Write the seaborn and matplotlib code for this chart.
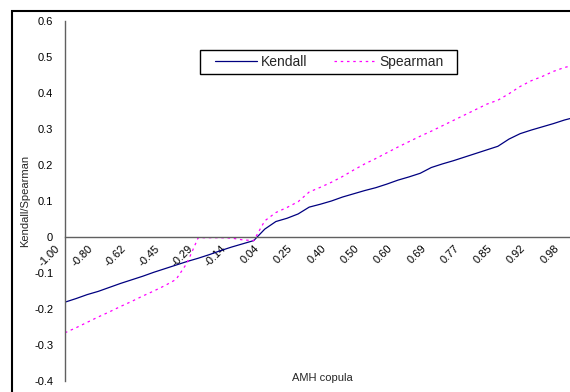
import numpy as np
import pandas as pd
import matplotlib
matplotlib.use('Agg')
import matplotlib.pyplot as plt
from matplotlib.patches import Rectangle
from matplotlib.transforms import ScaledTranslation
import seaborn as sns

# AMH copula: Kendall's tau and Spearman's rho per parameter step
kendall = [-0.181, -0.171, -0.160, -0.151, -0.140, -0.129, -0.119, -0.109, -0.098, -0.088,
           -0.078, -0.068, -0.059, -0.049, -0.038, -0.028, -0.019, -0.010, 0.022, 0.043,
           0.052, 0.064, 0.083, 0.091, 0.100, 0.111, 0.120, 0.129, 0.137, 0.147,
           0.158, 0.167, 0.177, 0.193, 0.203, 0.212, 0.222, 0.232, 0.242, 0.252,
           0.272, 0.287, 0.297, 0.306, 0.315, 0.325, 0.333]
spearman = [-0.266, -0.252, -0.237, -0.222, -0.208, -0.193, -0.179, -0.164, -0.150, -0.135,
            -0.118, -0.072, -0.002, -0.002, -0.002, -0.003, -0.008, -0.010, 0.045, 0.068,
            0.082, 0.098, 0.125, 0.138, 0.152, 0.168, 0.186, 0.203, 0.218, 0.234,
            0.250, 0.265, 0.280, 0.294, 0.309, 0.324, 0.339, 0.354, 0.369, 0.380,
            0.398, 0.418, 0.434, 0.446, 0.460, 0.471, 0.478]
# only every third category carries a label on the axis
x_labels = ['-1.00', '-0.80', '-0.62', '-0.45', '-0.29', '-0.14', '0.04', '0.25',
            '0.40', '0.50', '0.60', '0.69', '0.77', '0.85', '0.92', '0.98']
label_step = 3
y_ticks = [-0.4, -0.3, -0.2, -0.1, 0.0, 0.1, 0.2, 0.3, 0.4, 0.5, 0.6]

df = pd.DataFrame({'idx': np.arange(len(kendall)), 'Kendall': kendall, 'Spearman': spearman})
long = df.melt(id_vars='idx', var_name='measure', value_name='value')

sns.set_style('white')
plt.rcParams['font.family'] = ['Liberation Sans', 'DejaVu Sans']

W, H = 570, 392
fig = plt.figure(figsize=(W / 100, H / 100), dpi=100)
ax = fig.add_axes([65 / W, 1 - 381 / H, (575.6 - 65) / W, 360 / H])

sns.lineplot(data=long, x='idx', y='value', hue='measure', style='measure',
             palette={'Kendall': '#000080', 'Spearman': '#FF00FF'},
             dashes={'Kendall': '', 'Spearman': (2, 3)},
             linewidth=0.9, ax=ax, legend=False)

ax.set_xlim(0, 46)
ax.set_ylim(-0.4, 0.6)

# x axis sits on the zero line, Excel style
ax.spines['top'].set_visible(False)
ax.spines['right'].set_visible(False)
ax.spines['bottom'].set_position(('data', 0))
for s in ('left', 'bottom'):
    ax.spines[s].set_color('#606060')
    ax.spines[s].set_linewidth(1)

n = len(kendall)
ax.set_xticks(range(n))
ax.set_xticklabels([x_labels[i // label_step] if i % label_step == 0 and i // label_step < len(x_labels) else ''
                    for i in range(n)],
                   rotation=45, ha='right', va='center', rotation_mode='anchor')
ax.set_yticks(y_ticks)
ax.set_yticklabels(['0' if v == 0 else f'{v:.1f}' for v in y_ticks])
ax.tick_params(axis='both', direction='out', length=3.5, width=0.8, color='#606060',
               labelsize=8, labelcolor='black')
ax.tick_params(axis='y', pad=5)
ax.tick_params(axis='x', pad=3)

# nudge the rotated labels left, like the original (must come after tick_params)
shift = ScaledTranslation(-7 / 100, -1 / 100, fig.dpi_scale_trans)
for lab in ax.get_xticklabels():
    lab.set_transform(lab.get_transform() + shift)

ax.set_xlabel('')
ax.set_ylabel('Kendall/Spearman', fontsize=8)
ax.yaxis.set_label_coords(-0.069, 0.5)

fig.text(322 / W, 1 - 378 / H, 'AMH copula', fontsize=8, ha='center', va='center')

# legend box drawn by hand so it matches the original frame
leg = ax.legend(handles=ax.lines[:2], labels=['Kendall', 'Spearman'], ncol=2,
                loc='center left', bbox_to_anchor=(215 / W, 1 - 62 / H),
                bbox_transform=fig.transFigure, frameon=False, fontsize=10,
                handlelength=3.0, handletextpad=0.3, columnspacing=1.9,
                borderpad=0, borderaxespad=0)
fig.add_artist(Rectangle((200 / W, 1 - 74 / H), 257 / W, 24 / H, transform=fig.transFigure,
                         fill=False, edgecolor='black', linewidth=1))

# outer chart border (cut off at right and bottom in the original)
fig.add_artist(Rectangle((12 / W, -0.1), 1.0, 1.1 - 11 / H, transform=fig.transFigure,
                         fill=False, edgecolor='black', linewidth=1.5))

fig.savefig('out.png', dpi=100)
